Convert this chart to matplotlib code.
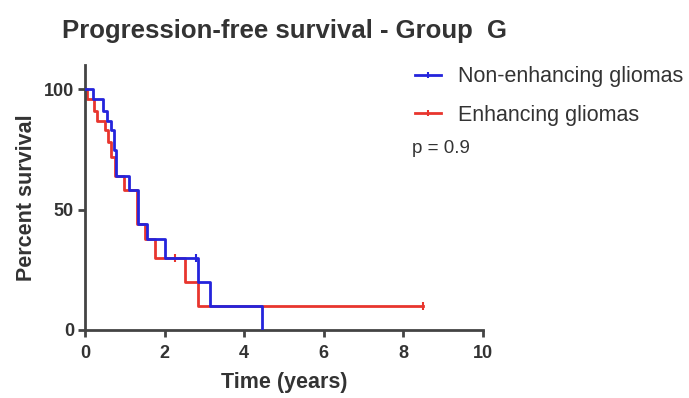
import matplotlib
matplotlib.use("Agg")
import matplotlib.pyplot as plt
from matplotlib.lines import Line2D

plt.rcParams['font.family'] = ['Liberation Sans', 'DejaVu Sans']

# Kaplan-Meier steps
blue_t = [0, 0.21, 0.45, 0.55, 0.65, 0.73, 0.79, 1.1, 1.33, 1.55, 2.0, 2.84, 3.13, 4.45]
blue_s = [100, 96, 91, 87, 83, 75, 64, 58, 44, 38, 30, 20, 10, 0]
blue_cens_t = [2.8]
blue_cens_s = [30]

red_t = [0, 0.05, 0.22, 0.3, 0.5, 0.57, 0.65, 0.75, 0.98, 1.3, 1.5, 1.75, 2.5, 2.84, 8.5]
red_s = [100, 96, 91, 87, 83, 78, 72, 64, 58, 44, 38, 30, 20, 10, 10]
red_cens_t = [2.26, 8.5]
red_cens_s = [30, 10]

labels = ["Non-enhancing gliomas", "Enhancing gliomas"]
blue = "#2424dc"
red = "#e8352e"
txt = "#333333"

fig = plt.figure(figsize=(6.89, 3.98), dpi=100)
ax = fig.add_axes([0.1234, 0.1709, 0.5776, 0.665])

ax.step(red_t, red_s, where='post', color=red, lw=2, zorder=2)
ax.plot(red_cens_t, red_cens_s, ls='none', marker='|', ms=6, mew=1.5, color=red, zorder=2)
ax.step(blue_t, blue_s, where='post', color=blue, lw=2, zorder=3)
ax.plot(blue_cens_t, blue_cens_s, ls='none', marker='|', ms=6, mew=1.5, color=blue, zorder=3)

ax.set_xlim(0, 10)
ax.set_ylim(0, 110)
ax.set_xticks([0, 2, 4, 6, 8, 10])
ax.set_yticks([0, 50, 100])
for s in ['top', 'right']:
    ax.spines[s].set_visible(False)
for s in ['left', 'bottom']:
    ax.spines[s].set_linewidth(2)
    ax.spines[s].set_color("#444444")
ax.tick_params(direction='out', length=5, width=2, color="#444444",
               labelsize=13, labelcolor=txt)
ax.tick_params(axis='x', pad=6)
ax.tick_params(axis='y', pad=3)
for lab in ax.get_xticklabels() + ax.get_yticklabels():
    lab.set_fontweight('bold')

ax.set_xlabel("Time (years)", fontsize=15.5, fontweight='bold', color=txt, labelpad=7)
ax.set_ylabel("Percent survival", fontsize=15.5, fontweight='bold', color=txt, labelpad=5)

fig.text(0.09, 0.922, "Progression-free survival - Group  G", fontsize=18.5,
         fontweight='bold', color=txt, va='center', ha='left')

handles = [Line2D([0], [0], color=blue, lw=2, marker='|', ms=5, mew=1.5),
           Line2D([0], [0], color=red, lw=2, marker='|', ms=5, mew=1.5)]
fig.legend(handles, labels, loc='upper left', bbox_to_anchor=(0.5745, 0.882),
           frameon=False, fontsize=15.5, handlelength=1.2, handletextpad=0.78,
           labelspacing=0.8, labelcolor=txt, borderpad=0.4)
fig.text(0.598, 0.628, "p = 0.9", fontsize=13.5, color=txt, va='center', ha='left')

fig.savefig("out.png", dpi=100)
